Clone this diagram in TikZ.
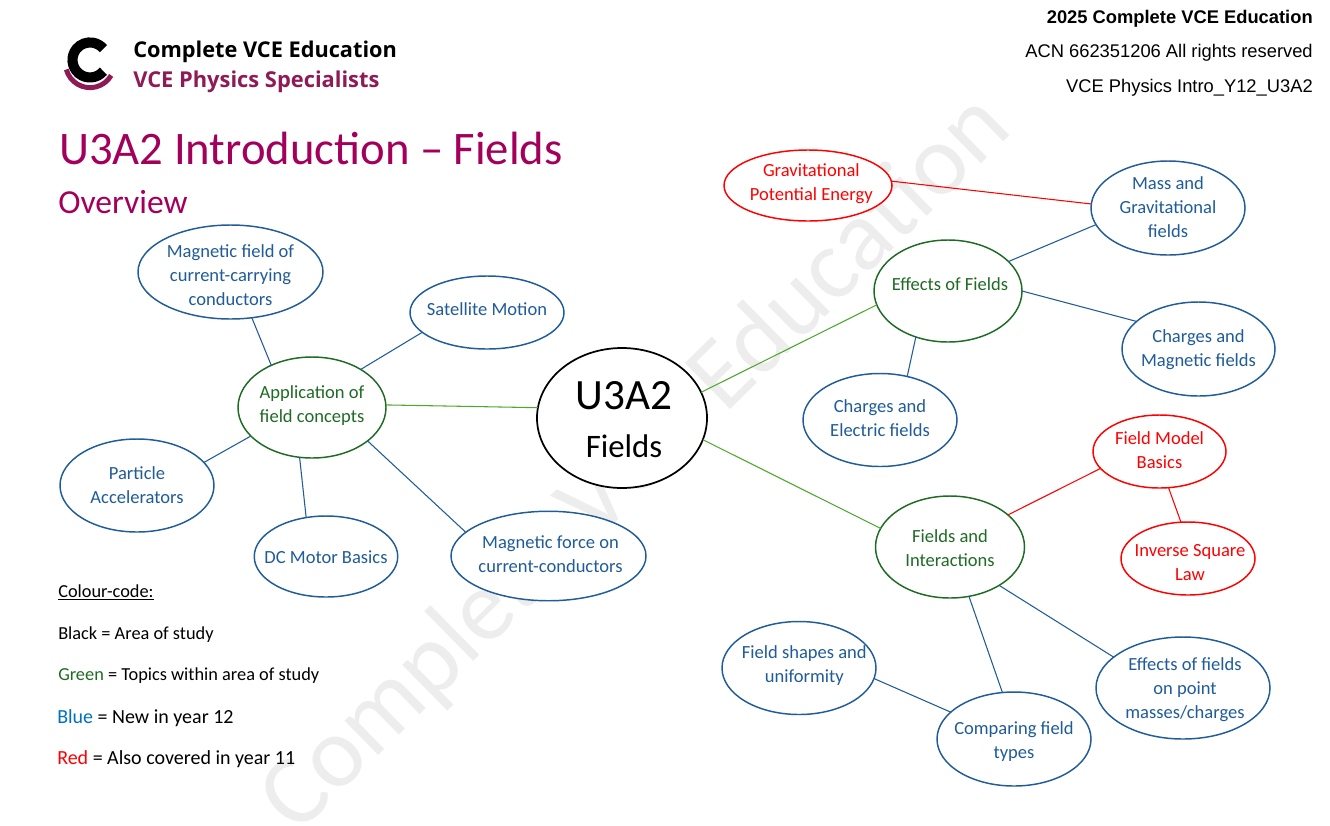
\documentclass[tikz,border=0pt]{standalone}
\usepackage{fontspec}
\setmainfont{Carlito}
\newfontfamily\hdrfont{Liberation Sans}
\newfontfamily\logofont{Open Sans}
\usetikzlibrary{shapes.geometric}
\definecolor{nblue}{HTML}{1F5C99}
\definecolor{ngreen}{HTML}{1E6B24}
\definecolor{nred}{HTML}{FF0000}
\definecolor{lgreen}{HTML}{4EA72E}
\definecolor{title}{HTML}{A3005C}
\definecolor{logom}{HTML}{8E1B55}
\definecolor{wm}{HTML}{EDEDED}
\definecolor{keyblue}{HTML}{0070C0}
\definecolor{keygreen}{HTML}{1E6B24}
\tikzset{
  es/.style 2 args={minimum width=#1*0.75pt, minimum height=#2*0.75pt},
  bl/.style={text depth=6pt, text height=6pt+(#1+0.8)*1.5pt},
  oval/.style={ellipse, draw, fill=white, line width=1.1pt, inner sep=-16pt, outer sep=0pt, align=center,
    font=\fontsize{13.9}{18}\selectfont},
  blueoval/.style={oval, draw=nblue, text=nblue},
  greenoval/.style={oval, draw=ngreen, text=ngreen},
  redoval/.style={oval, draw=nred, text=nred},
  blink/.style={draw=nblue, line width=0.8pt},
  glink/.style={draw=lgreen, line width=0.8pt},
  rlink/.style={draw=nred, line width=0.8pt},
  hdr/.style={anchor=base east, inner sep=0pt, font=\hdrfont\fontsize{13.75}{16}\selectfont},
  keytext/.style={anchor=base west, inner sep=0pt, font=\fontsize{13.75}{15}\selectfont},
  keybig/.style={anchor=base west, inner sep=0pt, font=\fontsize{15}{15}\selectfont},
}
\begin{document}
\begin{tikzpicture}[x=0.75pt,y=-0.75pt]
\useasboundingbox (0,0) rectangle (1330,825);
\begin{scope}
\clip (0,0) rectangle (1330,825);
\node[rotate=44.5, text=wm, inner sep=0pt, font=\fontsize{75.5}{80}\selectfont] (wmark) at (637,464) {Complete VCE Education};
\end{scope}

% logo
\draw[logom, line width=3.7pt] (111.2,75.4) arc[start angle=30, end angle=165, radius=24.5];
\draw[black, line width=7.6pt] (103.4,71.2) arc[start angle=40, end angle=320, radius=17.5];
\node[anchor=base west, inner sep=0pt, font=\logofont\bfseries\fontsize{16.3}{20}\selectfont] (logoa) at (133,57) {Complete VCE Education};
\node[anchor=base west, inner sep=0pt, text=logom, font=\logofont\bfseries\fontsize{16.4}{20}\selectfont] (logob) at (133,87) {VCE Physics Specialists};

% header
\node[hdr, font=\hdrfont\bfseries\fontsize{13.75}{16}\selectfont] (h1) at (1313,23) {2025 Complete VCE Education};
\node[hdr] (h2) at (1313,57) {ACN 662351206 All rights reserved};
\node[hdr] (h3) at (1313,92) {VCE Physics Intro\_Y12\_U3A2};

% title
\node[anchor=base west, inner sep=0pt, text=title, font=\fontsize{35}{40}\selectfont] (ttl) at (59,164) {U3A2 Introduction – Fields};
\node[anchor=base west, inner sep=0pt, text=title, font=\fontsize{25.2}{30}\selectfont] (ovr) at (58,213) {Overview};

% key
\node[keytext] (k0) at (58,597) {\underline{Colour-code:}};
\node[keytext] (k1) at (58,639) {Black = Area of study};
\node[keytext] (k2) at (58,680) {\textcolor{keygreen}{Green} = Topics within area of study};
\node[keybig] (k3) at (57,723) {\textcolor{keyblue}{Blue} = New in year 12};
\node[keybig] (k4) at (57,764) {\textcolor{nred}{Red} = Also covered in year 11};

% ovals
\node[oval, es={170}{140}, bl=38.5, draw=black, line width=1.3pt, text=black] (core) at (622,418)
  {\hspace*{3pt}{\fontsize{32.4}{36}\selectfont U3A2}\\[18pt]\hspace*{3pt}{\fontsize{24.6}{30}\selectfont Fields}};
\node[greenoval, es={148}{101}, bl=14] (app) at (312,407.5) {Application of\\field concepts};
\node[greenoval, es={148}{102}, bl=-1.5] (eff) at (948,291) {\hspace*{3pt}Effects of Fields};
\node[greenoval, es={149}{102}, bl=18.5] (fai) at (950,547) {Fields and\\Interactions};
\node[blueoval, es={185}{94}, bl=32.5] (mfc) at (230.5,272) {Magnetic field of\\current-carrying\\conductors};
\node[blueoval, es={154}{73}, bl=2] (sat) at (487,312.5) {Satellite Motion};
\node[blueoval, es={154}{93}, bl=17] (par) at (137,485.5) {Particle\\Accelerators};
\node[blueoval, es={143.5}{81}, bl=6] (dcm) at (326,556.5) {DC Motor Basics};
\node[blueoval, es={195}{89.5}, bl=15.5] (mfo) at (548.5,556) {\hspace*{3pt}Magnetic force on\\\hspace*{3pt}current-conductors};
\node[redoval, es={168}{71}, bl=14] (gpe) at (808,185.5) {\hspace*{5pt}Gravitational\\\hspace*{5pt}Potential Energy};
\node[blueoval, es={154}{94}, bl=28.5] (mas) at (1168,208) {Mass and\\Gravitational\\fields};
\node[blueoval, es={153}{94}, bl=16.5] (cmf) at (1198.5,349) {Charges and\\Magnetic fields};
\node[blueoval, es={154}{93}, bl=15.5] (cef) at (880,420) {Charges and\\Electric fields};
\node[redoval, es={133}{73}, bl=16] (fmb) at (1159.5,451.5) {Field Model\\Basics};
\node[redoval, es={134}{73}, bl=21] (isl) at (1188,558.5) {\hspace*{3pt}Inverse Square\\\hspace*{3pt}Law};
\node[blueoval, es={154}{93}, bl=13.5] (fsu) at (799,668) {\hspace*{8pt}Field shapes and\\\hspace*{8pt}uniformity};
\node[blueoval, es={154}{94}, bl=18.5] (cft) at (1014,739) {Comparing field\\types};
\node[blueoval, es={174}{102}, bl=29.5] (epm) at (1183,688) {\hspace*{3pt}Effects of fields\\\hspace*{3pt}on point\\\hspace*{3pt}masses/charges};

\draw[rlink] (gpe.3.1) -- (mas.177.8);
\draw[blink] (eff.26.6) -- (mas.193);
\draw[blink] (eff.0) -- (cmf.156);
\draw[blink] (eff.235.4) -- (cef.58.5);
\draw[glink] (core.18) -- (eff.191.8);
\draw[glink] (core.-15) -- (fai.165.5);
\draw[glink] (app.2) -- (core.173.9);
\draw[blink] (app.134.7) -- (mfc.-65.5);
\draw[blink] (app.38) -- (sat.197);
\draw[blink] (app.205.6) -- (par.19.3);
\draw[blink] (app.256.4) -- (dcm.117.7);
\draw[blink] (app.-31.3) -- (mfo.164);
\draw[rlink] (fai.29.3) -- (fmb.196.7);
\draw[rlink] (fmb.-76.5) -- (isl.101);
\draw[blink] (fai.-38.5) -- (epm.156);
\draw[blink] (fai.-69) -- (cft.104.6);
\draw[blink] (fsu.-8.3) -- (cft.157);
\end{tikzpicture}
\end{document}
